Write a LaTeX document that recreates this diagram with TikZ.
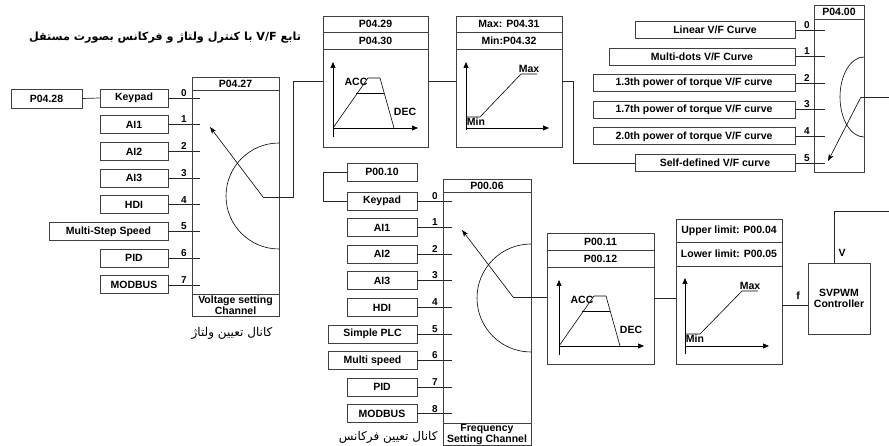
\documentclass[tikz,border=0pt]{standalone}
\usepackage{fontspec}
\setmainfont{Liberation Sans}
\newfontfamily\arabicfont[Script=Arabic]{DejaVu Sans}
\TeXXeTstate=1
\usetikzlibrary{arrows.meta}
\newcommand{\mybox}[7][]{\node[blk,#1,minimum width={((#5)-(#3))*1pt},minimum height={((#6)-(#4))*1pt}] (#2) at ({((#3)+(#5))/2},{-((#4)+(#6))/2}) {#7};}
\begin{document}
\begin{tikzpicture}[x=1pt,y=1pt,
  lbl/.style={font=\fontsize{10.5}{11}\selectfont\bfseries},
  blk/.style={draw=black!75,line width=0.8pt,rectangle,inner sep=0pt,align=center,lbl},
  wire/.style={draw=black!85,line width=0.7pt},
  num/.style={font=\fontsize{10}{10}\selectfont\bfseries,inner sep=0.5pt,anchor=south},
  ptr/.style={-{Stealth[length=7pt,width=5pt]},line width=0.6pt},
  axis/.style={-{Triangle[length=6pt,width=5pt]},line width=0.7pt},
  thinl/.style={line width=0.6pt},
  ar/.style={font=\arabicfont\fontsize{12}{13}\selectfont},
  ramp/.pic={
    \draw[axis] (0,-9) -- (0,66);
    \draw[axis] (0,0) -- (85,0);
    \draw[thinl] (0,0) -- (35,50) -- (47,50) -- (61,0);
    \draw[thinl] (23,35) -- (51,35);
    \node[lbl] at (23,46) {ACC};
    \node[lbl] at (72,16) {DEC};
  }
]
\useasboundingbox (0,0) rectangle (889,-446);

% title
\node[font=\arabicfont\bfseries\fontsize{11.2}{12}\selectfont] (title) at (165,-38) {\beginR تابع \beginL V/F\endL{} با کنترل ولتاژ و فرکانس بصورت  مستقل\endR};

% ---------- voltage channel ----------
\mybox{p0428}{11}{89}{82}{108}{P04.28}
\foreach \nm/\xa/\tx [count=\i from 0] in {vkey/100/Keypad, vai1/100/AI1, vai2/100/AI2, vai3/100/AI3, vhdi/100/HDI, vmss/49/{Multi-Step Speed}, vpid/100/PID, vmod/100/MODBUS}{
  \pgfmathsetmacro\yy{98+26.7*\i}
  \mybox{\nm}{\xa}{\yy-9}{168}{\yy+9}{\tx}
  \coordinate (vin\i) at (200,-\yy);
  \draw[wire] (\nm.east) -- (vin\i);
  \node[num] at (184,-\yy+1) {\i};
}
\draw[wire] (p0428.east) -- (vkey.west);
\mybox{vhead}{192}{77}{279}{90}{P04.27}
\mybox{vbody}{192}{90}{279}{294}{}
\mybox{vfoot}{192}{294}{279}{316}{Voltage setting\\Channel}
\draw[thinl] (279,-143) arc (90:270:53);
\coordinate (vtail) at (263,-197);
\coordinate (vtip) at (210,-127);
\draw[ptr] (vtail) -- (vtip);
\node[ar] (varlbl) at (232,-333) {\beginR کانال تعیین ولتاژ\endR};

% ramp P04.29
\mybox{ah1}{323}{16}{428}{32}{P04.29}
\mybox{ah2}{323}{32}{428}{49}{P04.30}
\mybox{abody}{323}{49}{428}{147}{}
\pic at (333,-128) {ramp};
\coordinate (vbend) at (293,-197);
\coordinate (ain) at (323,-81);
\draw[wire] (vtail) -- (vbend) |- (ain);

% limits P04.31
\mybox{bh1}{456}{16}{562}{32}{Max: P04.31}
\mybox{bh2}{456}{32}{562}{49}{Min:P04.32}
\mybox{bbody}{456}{49}{562}{147}{}
\begin{scope}[shift={(466,-128)}]
  \draw[axis] (0,-2) -- (0,66);
  \draw[axis] (0,0) -- (83,0);
  \draw[thinl] (0,11) -- (14,11) -- (55,54) -- (71,54);
  \node[lbl,anchor=south,inner sep=1pt] at (63,54) {Max};
  \node[lbl,anchor=north,inner sep=1pt] at (10,11) {Min};
\end{scope}
\coordinate (aout) at (428,-81);
\coordinate (bin) at (456,-81);
\draw[wire] (aout) -- (bin);

% ---------- V/F curve selection ----------
\mybox{ch}{814}{5}{864}{19}{P04.00}
\mybox{cbody}{814}{19}{864}{172}{}
\foreach \nm/\xa/\tx [count=\i from 0] in {lin/635/{Linear V/F Curve}, mdot/609/{Multi-dots V/F Curve}, p13/593/{1.3th power of torque V/F curve}, p17/593/{1.7th power of torque V/F curve}, p20/593/{2.0th power of torque V/F curve}, self/635/{Self-defined V/F curve}}{
  \pgfmathsetmacro\yy{30+26.6*\i}
  \mybox{\nm}{\xa}{\yy-8.5}{795}{\yy+8.5}{\tx}
  \coordinate (cin\i) at (825,-\yy);
  \draw[wire] (\nm.east) -- (cin\i);
  \node[num] at (807,-\yy+1) {\i};
}
\coordinate (bout) at (562,-81);
\coordinate (bbend) at (573,-81);
\draw[wire] (bout) -- (bbend) |- (self.west);
\draw[thinl] (864,-57) arc (90:270:24 and 40);
\coordinate (ctail) at (861,-97);
\coordinate (ctip) at (828,-161);
\coordinate (cexit) at (889,-97);
\draw[ptr] (ctail) -- (ctip);
\draw[wire] (ctail) -- (cexit);

% ---------- frequency channel ----------
\mybox{p0010}{347}{163}{417}{181}{P00.10}
\foreach \nm/\xa/\tx [count=\i from 0] in {fkey/347/Keypad, fai1/347/AI1, fai2/347/AI2, fai3/347/AI3, fhdi/347/HDI, fplc/328/{Simple PLC}, fms/328/{Multi speed}, fpid/347/PID, fmod/347/MODBUS}{
  \pgfmathsetmacro\yy{201+26.6*\i}
  \mybox{\nm}{\xa}{\yy-9}{417}{\yy+9}{\tx}
  \coordinate (fin\i) at (452,-\yy);
  \draw[wire] (\nm.east) -- (fin\i);
  \node[num] at (435,-\yy+1) {\i};
}
\coordinate (fbend) at (323,-172);
\draw[wire] (p0010.west) -- (fbend) |- (fkey.west);
\mybox{fhead}{443}{179}{531}{192}{P00.06}
\mybox{fbody}{443}{192}{531}{423}{}
\mybox{ffoot}{443}{423}{531}{445}{Frequency\\Setting Channel}
\draw[thinl] (531,-244) arc (90:270:54);
\coordinate (ftail) at (513,-297);
\coordinate (ftip) at (462,-230);
\draw[ptr] (ftail) -- (ftip);
\node[ar,anchor=east] (farlbl) at (441,-437) {\beginR کانال تعیین فرکانس\endR};

% ramp P00.11
\mybox{dh1}{547}{233}{654}{250}{P00.11}
\mybox{dh2}{547}{250}{654}{267}{P00.12}
\mybox{dbody}{547}{267}{654}{364}{}
\pic at (559,-346) {ramp};
\coordinate (din) at (547,-297);
\draw[wire] (ftail) -- (din);

% limits P00.04
\mybox{eh1}{676}{219}{782}{242}{Upper limit: P00.04}
\mybox{eh2}{676}{242}{782}{266}{Lower limit: P00.05}
\mybox{ebody}{676}{266}{782}{364}{}
\begin{scope}[shift={(685,-346)}]
  \draw[axis] (0,-8) -- (0,68);
  \draw[axis] (0,0) -- (84,0);
  \draw[thinl] (0,12) -- (15,12) -- (57,55) -- (73,55);
  \node[lbl,anchor=south,inner sep=1pt] at (65,55) {Max};
  \node[lbl,anchor=north,inner sep=1pt] at (10,12) {Min};
\end{scope}
\coordinate (dout) at (654,-298);
\coordinate (ein) at (676,-298);
\draw[wire] (dout) -- (ein);

% SVPWM
\mybox{sv}{808}{263}{870}{334}{SVPWM\\Controller}
\coordinate (eout) at (782,-305);
\coordinate (svin) at (808,-305);
\draw[wire] (eout) -- (svin);
\node[lbl] (flbl) at (798,-296) {f};
\coordinate (svtop) at (834,-263);
\coordinate (svbend) at (834,-211);
\coordinate (svexit) at (889,-211);
\draw[wire] (svtop) -- (svbend) -- (svexit);
\node[lbl] (vlbl) at (842,-253) {V};
\end{tikzpicture}
\end{document}
